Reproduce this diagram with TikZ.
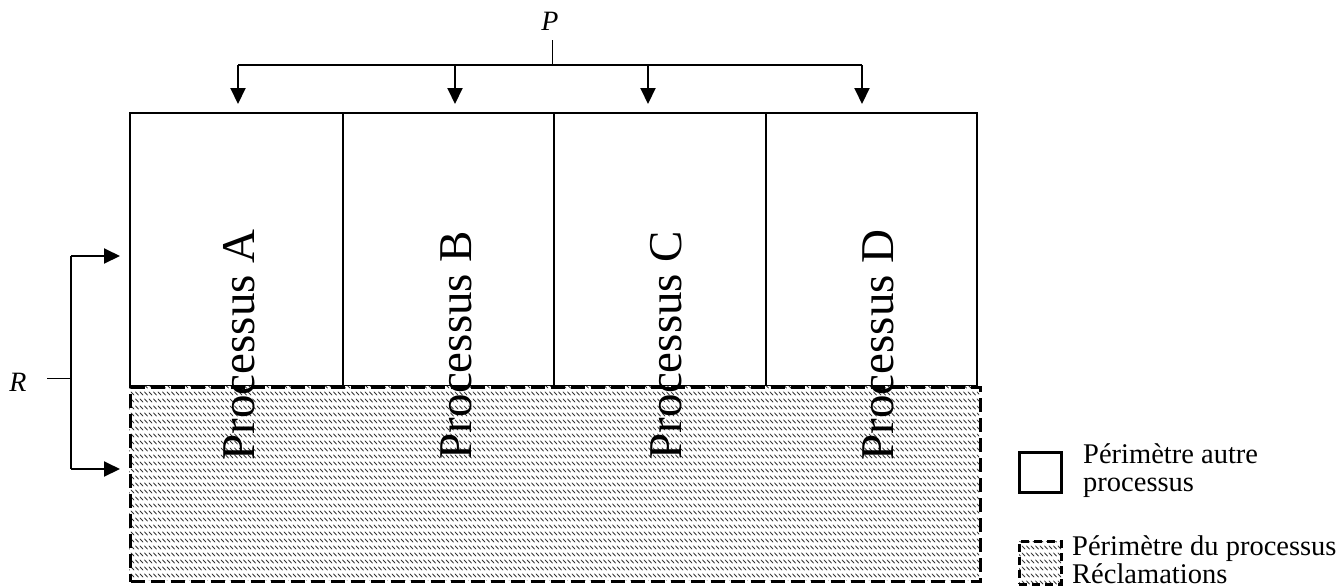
\documentclass[tikz,border=0pt]{standalone}
\usepackage{fontspec}
\setmainfont{Liberation Serif}
\usetikzlibrary{arrows.meta,patterns}
\pgfdeclarepatternformonly{shorthatch}{\pgfqpoint{-0.5pt}{-0.5pt}}{\pgfqpoint{5pt}{7.5pt}}{\pgfqpoint{4.5pt}{7pt}}{%
  \pgfsetlinewidth{0.8pt}%
  \pgfpathmoveto{\pgfqpoint{0.4pt}{6.2pt}}%
  \pgfpathlineto{\pgfqpoint{3.6pt}{2.8pt}}%
  \pgfusepath{stroke}}
\begin{document}
\begin{tikzpicture}[x=1pt,y=-1pt,
  procbox/.style={draw,line width=2.3pt,minimum height=273pt,anchor=north west,inner sep=0pt,outer sep=0pt},
  hatchfill/.style={pattern=shorthatch,pattern color=black!80},
  dashbox/.style={draw,line width=3pt,dash pattern=on 14pt off 6pt},
  proctext/.style={rotate=90,font=\fontsize{47}{50}\selectfont},
  legtext/.style={font=\fontsize{28.5}{28}\selectfont,align=left,anchor=base west,inner sep=0pt},
  lbl/.style={font=\fontsize{28}{30}\selectfont\itshape,inner sep=0pt,anchor=base},
  conn/.style={line width=2pt,-{Triangle[length=16pt,width=15pt]}},
  stem/.style={line width=1pt}]
\useasboundingbox (0,0) rectangle (1343,587);
% process boxes
\node[procbox,minimum width=213pt] (boxA) at (130,113) {};
\node[procbox,minimum width=211pt] (boxB) at (343,113) {};
\node[procbox,minimum width=212pt] (boxC) at (554,113) {};
\node[procbox,minimum width=211pt] (boxD) at (766,113) {};
% hatched region
\fill[white] (129,386) rectangle (979,580);
\fill[hatchfill] (129,386) rectangle (979,580);
\node[dashbox,minimum width=850pt,minimum height=194pt,anchor=north west,inner sep=0pt] (recl) at (129,386) {};
% labels
\node[proctext] (tA) at (239,345) {Processus A};
\node[proctext] (tB) at (456,345) {Processus B};
\node[proctext] (tC) at (666,345) {Processus C};
\node[proctext] (tD) at (878,345) {Processus D};
% P connectors
\node[lbl] (P) at (550,30) {P};
\coordinate (pstem) at (552,40);
\coordinate (pj) at (552,65);
\coordinate (pL) at (238,65);
\coordinate (pR) at (862,65);
\coordinate (a1) at (238,104);
\coordinate (a2) at (455,104);
\coordinate (a3) at (648,104);
\coordinate (a4) at (862,104);
\draw[stem] (pstem) -- (pj);
\draw[line width=2pt] (pL) -- (pR);
\draw[conn] (pL) -- (a1);
\draw[conn] (455,65) -- (a2);
\draw[conn] (648,65) -- (a3);
\draw[conn] (pR) -- (a4);
% R connectors
\node[lbl] (R) at (18,391) {R};
\coordinate (rstem) at (47,378);
\coordinate (rj) at (71,378);
\coordinate (rT) at (71,256);
\coordinate (rB) at (71,469);
\coordinate (rTe) at (120,256);
\coordinate (rBe) at (120,469);
\draw[stem] (rstem) -- (rj);
\draw[line width=2pt] (rT) -- (rB);
\draw[conn] (rT) -- (rTe);
\draw[conn] (rB) -- (rBe);
% legend
\node[draw,line width=3pt,minimum width=42pt,minimum height=40pt,inner sep=0pt] (leg1) at (1040,472) {};
\fill[hatchfill] (1019,541) rectangle (1061,584);
\node[draw,line width=3pt,dash pattern=on 8pt off 5pt,minimum width=42pt,minimum height=43pt,inner sep=0pt] (leg2) at (1040,562.5) {};
\node[legtext] (l1) at (1083,491) {Périmètre autre\\processus};
\node[legtext] (l2) at (1072,583) {Périmètre du processus\\Réclamations};
\end{tikzpicture}
\end{document}
